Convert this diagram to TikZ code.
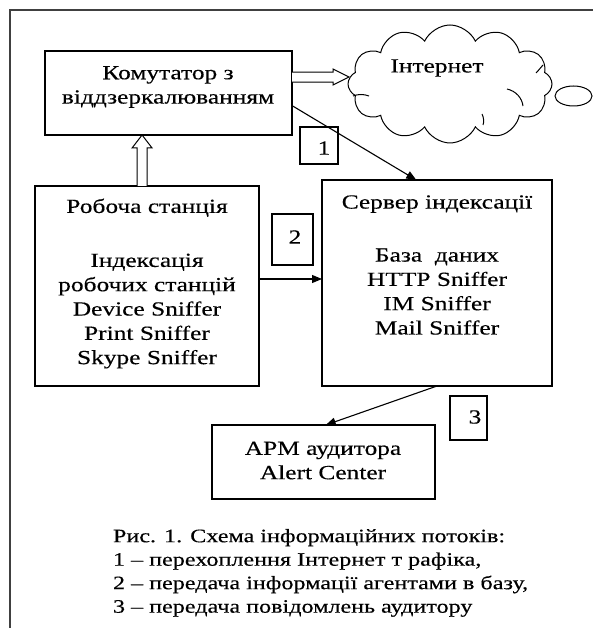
\documentclass[tikz,border=0pt]{standalone}
\usepackage{fontspec}
\setmainfont[FakeStretch=1.26]{Liberation Serif}
\newfontfamily\boxfont[FakeStretch=1.27,FakeBold=0.3]{Liberation Serif}
\newfontfamily\capfont[FakeStretch=1.27,FakeBold=0.3]{Liberation Serif}
\usetikzlibrary{shapes.symbols,shapes.geometric,calc,arrows.meta}
\begin{document}
\begin{tikzpicture}[x=1pt,y=-1pt,
  every node/.style={inner sep=0pt, outer sep=0pt},
  box/.style={draw=black, line width=1.3pt, fill=white},
  txt/.style={font=\boxfont\fontsize{20}{24.3}\selectfont, align=center, text=black},
  captxt/.style={font=\capfont\fontsize{19}{23.5}\selectfont, align=left, text=black},
  conn/.style={line width=1.1pt, draw=black, -{Triangle[length=10pt,width=8pt]}},
  hollow/.style={draw=black, line width=1pt, fill=white, line join=miter},
  inner/.style={draw=black, line width=1pt}]
\useasboundingbox (0,0) rectangle (593,628);
% frame
\draw[line width=1.8pt, draw=black!75] (10,628) -- (10,10) -- (593,10);
% boxes
\node[box, minimum width=247pt, minimum height=84pt] (sw) at (168.5,93) {};
\node[box, minimum width=224pt, minimum height=200pt] (ws) at (147,286) {};
\node[box, minimum width=230pt, minimum height=206pt] (srv) at (437,283) {};
\node[box, minimum width=223pt, minimum height=74pt] (apm) at (323.5,462) {};
\node[box, minimum width=38pt, minimum height=37pt] (b1) at (319,145.5) {};
\node[box, minimum width=41pt, minimum height=51pt] (b2) at (292.5,239.5) {};
\node[box, minimum width=37pt, minimum height=44pt] (b3) at (468.5,418) {};
% cloud
\node[cloud, cloud puffs=12, cloud puff arc=130, aspect=1.75, draw=black, line width=1pt,
      minimum width=204pt, minimum height=118pt] (cl) at (450,84) {};
\draw[inner] (507,89) .. controls (516,91) and (522,98) .. (523,106);
\draw[inner] (536,73) .. controls (539,70) and (541,67) .. (543,65);
\draw[inner] (353,96) .. controls (358,94) and (364,94) .. (369,96);
\draw[inner] (482,114) .. controls (484,118) and (484,122) .. (483,125);
\node[ellipse, draw=black, line width=1pt, minimum width=37pt, minimum height=20pt] (bub) at (573.5,96) {};
% texts
\node[txt] (swt) at (168,87) {Комутатор з\\віддзеркалюванням};
\node[txt] (wst) at (147,283.5) {Робоча станція\\[29.7pt]Індексація\\робочих станцій\\Device Sniffer\\Print Sniffer\\Skype Sniffer};
\node[txt] (srvt) at (437,265) {Сервер індексації\\[28.7pt]База\ \ даних\\HTTP Sniffer\\IM Sniffer\\Mail Sniffer};
\node[txt] (apmt) at (323,460.5) {АРМ аудитора\\Alert Center};
\node[txt] (inet) at (437,68) {Інтернет};
\node[txt] (n1) at (324,148) {1};
\node[txt] (n2) at (295,237) {2};
\node[txt] (n3) at (475,417) {3};
% caption
\node[captxt, anchor=north west] (cap) at (113,529) {Рис. 1. Схема інформаційних потоків:\\1 – перехоплення Інтернет т рафіка,\\2 – передача інформації агентами в базу,\\3 – передача повідомлень аудитору};
% connectors
\coordinate (s1) at ($(sw.north east)!0.65!(sw.south east)$);
\coordinate (e1) at ($(srv.north west)!0.41!(srv.north east)$);
\draw[conn] (s1) -- (e1);
\coordinate (s2) at ($(ws.north east)!0.465!(ws.south east)$);
\draw[conn] (s2) -- (s2 -| srv.west);
\coordinate (s3) at ($(srv.south west)!0.5!(srv.south east)$);
\coordinate (e3) at ($(apm.north west)!0.51!(apm.north east)$);
\draw[conn] (s3) -- (e3);
% hollow arrow switch -> cloud
\coordinate (h0) at ($(sw.north east)!0.31!(sw.south east)$);
\draw[hollow] ($(h0)+(0,-5)$) -- ++(41,0) -- ++(0,-3) -- ($(h0)+(57,0)$) -- ($(h0)+(41,8)$) -- ++(0,-3) -- ($(h0)+(0,5)$);
% hollow arrow workstation -> switch
\coordinate (v0) at ($(ws.north west)!0.478!(ws.north east)$);
\draw[hollow] ($(v0)+(-5,0)$) -- ($(v0)+(-5,-38)$) -- ($(v0)+(-10,-38)$) -- ($(v0)+(0,-51)$) -- ($(v0)+(10,-38)$) -- ($(v0)+(5,-38)$) -- ($(v0)+(5,0)$);
\end{tikzpicture}
\end{document}
